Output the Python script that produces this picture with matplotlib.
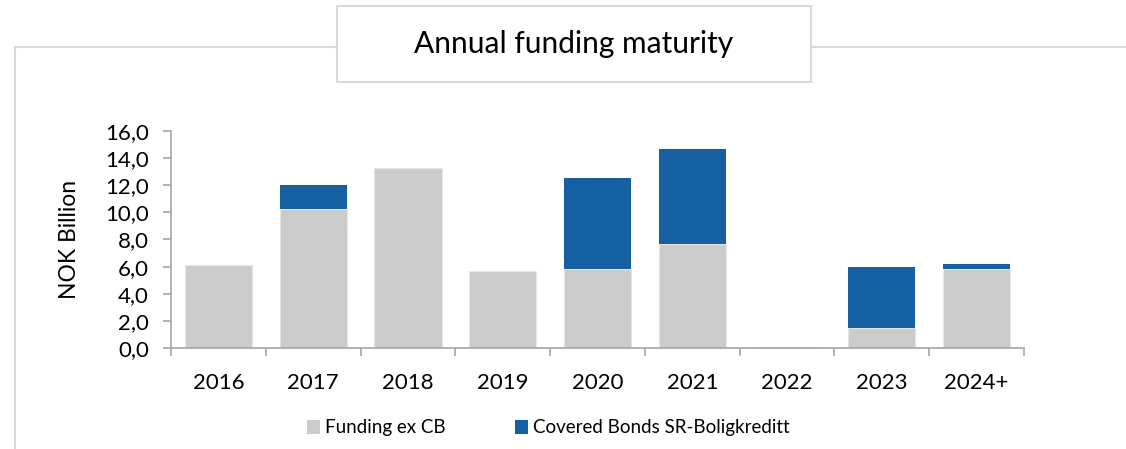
import matplotlib
matplotlib.use("Agg")
import matplotlib.pyplot as plt
from matplotlib.patches import Rectangle, Patch
from matplotlib.lines import Line2D
import numpy as np

YEARS = ["2016", "2017", "2018", "2019", "2020", "2021", "2022", "2023", "2024+"]
FUNDING_EX_CB = [6.1, 10.25, 13.3, 5.7, 5.8, 7.7, 0.06, 1.5, 5.8]
COVERED_BONDS = [0.0, 1.75, 0.0, 0.0, 6.7, 7.0, 0.0, 4.5, 0.37]
Y_TICKS = [0, 2, 4, 6, 8, 10, 12, 14, 16]

GRAY = "#cccccc"
BLUE = "#1460a0"
AXIS = "#a6a6a6"
FRAME = "#d9d9d9"

plt.rcParams["font.family"] = ["Lato", "DejaVu Sans"]

W, H = 1126, 449
fig = plt.figure(figsize=(W / 100, H / 100), dpi=100)


# pixel coords -> figure coords
def fx(px):
    return px / W


def fy(py):
    return 1 - py / H


# outer frame lines + title box
fig.add_artist(Line2D([fx(15), fx(337)], [fy(47), fy(47)], color=FRAME, lw=1.5))
fig.add_artist(Line2D([fx(811), fx(1126)], [fy(47), fy(47)], color=FRAME, lw=1.5))
fig.add_artist(Line2D([fx(15), fx(15)], [fy(47), fy(449)], color=FRAME, lw=1.5))
fig.add_artist(Rectangle((fx(337), fy(82)), fx(811) - fx(337), fy(6) - fy(82),
                         transform=fig.transFigure, fill=False, edgecolor=FRAME, lw=1.5))
fig.text(fx(574), fy(44), "Annual funding maturity", ha="center", va="center", fontsize=21.5)

ax = fig.add_axes([fx(171), fy(348), fx(1024) - fx(171), fy(131) - fy(348)])
x = np.arange(len(YEARS))
ax.bar(x, FUNDING_EX_CB, width=0.71, color=GRAY, edgecolor="#e6e6e6", linewidth=0.8)
ax.bar(x, COVERED_BONDS, width=0.71, bottom=FUNDING_EX_CB, color=BLUE, linewidth=0)

ax.set_xlim(-0.5, len(YEARS) - 0.5)
ax.set_ylim(0, 16)
ax.set_yticks(Y_TICKS)
ax.set_yticklabels([f"{v:.1f}".replace(".", ",") for v in Y_TICKS], fontsize=16)
ax.set_xticks(x)
ax.set_xticklabels(YEARS, fontsize=16)
ax.set_xticks(np.arange(len(YEARS) + 1) - 0.5, minor=True)
ax.tick_params(axis="x", which="major", length=0, pad=18)
ax.tick_params(axis="x", which="minor", length=6, color=AXIS, width=1.2)
ax.tick_params(axis="y", length=6, color=AXIS, width=1.2, pad=10)
for s in ["top", "right"]:
    ax.spines[s].set_visible(False)
for s in ["left", "bottom"]:
    ax.spines[s].set_color(AXIS)
    ax.spines[s].set_linewidth(1.2)
ax.set_ylabel("NOK Billion", fontsize=16.5, labelpad=18)

handles = [Patch(facecolor=GRAY, edgecolor="none"), Patch(facecolor=BLUE, edgecolor="none")]
fig.legend(handles, ["Funding ex CB", "Covered Bonds SR-Boligkreditt"], loc="center left",
           bbox_to_anchor=(fx(307), fy(428)), ncol=2, frameon=False, fontsize=13.5,
           borderpad=0, borderaxespad=0,
           handlelength=0.7, handleheight=0.7, handletextpad=0.25, columnspacing=3.7)

fig.savefig("out.png", dpi=100)
